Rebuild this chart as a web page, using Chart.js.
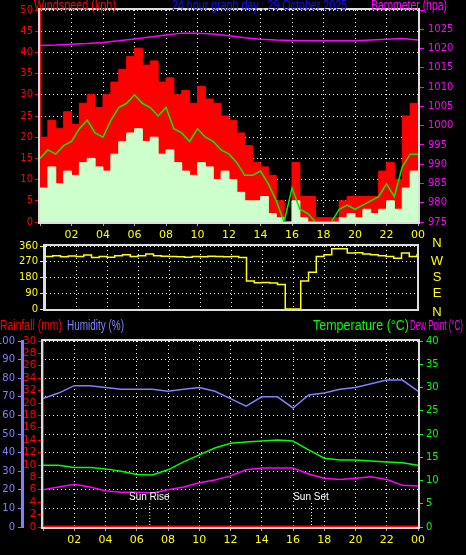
<!DOCTYPE html>
<html><head><meta charset="utf-8">
<script src="https://cdn.jsdelivr.net/npm/chart.js@4/dist/chart.umd.min.js"></script>
<style>
html,body{margin:0;padding:0;background:#000;width:466px;height:555px;overflow:hidden}
.c{position:absolute;left:0;width:466px}
</style></head><body>
<div class="c" style="top:0;height:242px"><canvas id="c1"></canvas></div>
<div class="c" style="top:238px;height:80px"><canvas id="c2"></canvas></div>
<div class="c" style="top:318px;height:237px"><canvas id="c3"></canvas></div>
<script>
// ---- data ----
const halfHours = [0,0.5,1,1.5,2,2.5,3,3.5,4,4.5,5,5.5,6,6.5,7,7.5,8,8.5,9,9.5,10,10.5,11,11.5,12,12.5,13,13.5,14,14.5,15,15.5,16,16.5,17,17.5,18,18.5,19,19.5,20,20.5,21,21.5,22,22.5,23,23.5,24];
const hours = [0,1,2,3,4,5,6,7,8,9,10,11,12,13,14,15,16,17,18,19,20,21,22,23,24];
const windGust = [20,24,22,26,23,28,30,27,30,33,36,39,41,37,38,33,34,30,31,28,32,29,28,25,24,21,18,14,13,11,5,0,14,6,6,1,1,1,5,6,6,6,6,12,14,10,25,28,30];
const windAvg  = [15,17,16,18,19,22,24,21,20,24,27,28,30,28,27,25,27,22,21,19,22,20,19,17,16,14,11,11,12,9,5,0,8,3,2,0,0,0,3,4,3,4,5,6,9,6,13,16,16];
const windLull = [8,13,9,12,11,14,15,13,12,16,19,21,22,19,20,16,17,14,12,11,14,13,10,12,10,7,5,5,6,2,1,0,5,1,0,0,0,0,1,2,1,3,2,3,5,3,8,12,10];
const barometer = [1020.8,1020.9,1021.1,1021.3,1021.6,1022.0,1022.5,1023.0,1023.5,1024.0,1024.0,1023.8,1023.3,1022.8,1022.4,1022.2,1022.1,1022.0,1022.0,1022.0,1022.0,1022.2,1022.4,1022.6,1022.2];
const windDir = [300,305,298,303,300,308,295,300,296,305,310,300,305,315,305,302,300,298,296,300,298,302,300,298,300,295,160,150,152,148,140,0,0,160,210,300,310,345,345,320,322,315,310,305,300,290,320,300,315];
const humidity = [69,72,76,76,75,74,74,74,73,74,75,73,69,65,70,70,64,71,72,74,75,77,79,79,73];
const temperature = [13.3,13.3,12.8,12.8,12.5,12.0,11.3,11.2,12.3,14.0,15.5,17.0,18.0,18.3,18.5,18.7,18.5,16.6,14.8,14.4,14.4,14.2,14.0,13.8,13.3];
const dewPoint = [8.0,8.6,9.2,8.6,7.8,7.5,7.5,7.3,8.0,8.6,9.5,10.1,11.0,12.3,12.7,12.7,12.7,11.4,10.5,10.2,10.5,10.8,10.2,9.0,8.8];
const rainfall = [0,0,0,0,0,0,0,0,0,0,0,0,0,0,0,0,0,0,0,0,0,0,0,0,0];
const rainTickLabels = {0:'0',2:'2',4:'4',6:'6',8:'8',10:'10',12:'12',14:'14',16:'16',18:'18',20:'20',22:'32',24:'34',26:'26',28:'28',30:'30'};
const dirLetters = ['N','E','S','W','N'];
const sunRise = 6.8, sunSet = 17.15;

const F = 'DejaVu Sans';
const HF = 'Liberation Sans';
Chart.defaults.font.family = F;
Chart.defaults.font.size = 10;
Chart.defaults.animation = false;
const pts = (xs, ys) => xs.map((x,i)=>({x, y:ys[i]}));
const fixW = w => s => { s.width = w; };
const fixH = h => s => { s.height = h; };
const hourLabel = v => v===0 ? '' : String(v%24).padStart(2,'0');
const DASH = [1,3];
const xAxis = (h) => ({type:'linear', min:0, max:24, afterFit: fixH(h),
  ticks:{stepSize:2, color:'#ffff00', callback:hourLabel, padding:3, maxRotation:0, autoSkip:false, font:{size:11}},
  grid:{color:'#fff', tickLength:4, tickColor:'#aaa', tickBorderDash:[]},
  border:{dash:DASH, color:'#ddd'}});

const frame = {id:'frame', afterDraw(c){const a=c.chartArea, x=c.ctx; x.save(); x.strokeStyle='#ddd'; x.lineWidth=2; x.strokeRect(a.left-1,a.top-1,a.right-a.left+2,a.bottom-a.top+2); x.restore();}};
function texts(name, list){return {id:name, afterDraw(c){const x=c.ctx; x.save(); x.font='14px "'+HF+'"'; x.textBaseline='middle'; x.textAlign='left'; list.forEach(t=>{x.fillStyle=t.c; x.fillText(t.s,t.x,t.y,t.w);}); x.restore();}};}

// ---- chart 1: wind + barometer ----
new Chart(document.getElementById('c1'), {
  type:'line',
  data:{datasets:[
    {data:pts(halfHours,windAvg), borderColor:'#00ee00', borderWidth:1.5, pointRadius:0, fill:false, yAxisID:'y', order:1},
    {data:pts(halfHours,windLull), borderColor:'#ccffcc', backgroundColor:'#ccffcc', borderWidth:1, pointRadius:0, fill:'origin', stepped:true, yAxisID:'y', order:2},
    {data:pts(halfHours,windGust), borderColor:'#ff0000', backgroundColor:'#ff0000', borderWidth:1, pointRadius:0, fill:'origin', stepped:true, yAxisID:'y', order:3},
    {data:pts(hours,barometer), borderColor:'#ff00ff', borderWidth:1.5, pointRadius:0, fill:false, yAxisID:'y2', order:0}
  ]},
  options:{responsive:true, maintainAspectRatio:false, layout:{padding:{top:10,left:0,right:0,bottom:0}},
    plugins:{legend:{display:false}, tooltip:{enabled:false}},
    scales:{
      x:xAxis(20),
      y:{position:'left', min:0, max:50, afterFit:fixW(40), ticks:{stepSize:5, color:'#ff0000', padding:2, autoSkip:false},
         grid:{color:'#fff', tickColor:'#ff0000', tickLength:5}, border:{dash:DASH, color:'#ff0000'}},
      y2:{position:'right', min:975, max:1030, afterFit:fixW(48), ticks:{stepSize:5, color:'#ff00ff', padding:4, autoSkip:false, callback:v=>v===1030?'':v},
         grid:{drawOnChartArea:false, tickColor:'#ff00ff', tickLength:6}, border:{color:'#ff00ff'}}
    }},
  plugins:[frame, texts('t1',[
    {s:'Windspeed (kph)', c:'#ff0000', x:34, y:6, w:82},
    {s:'24 hour graph day : 29 October 2025', c:'#1010ff', x:172, y:6, w:175},
    {s:'Barometer (hpa)', c:'#ff00ff', x:371, y:6, w:76}])]
});

// ---- chart 2: direction ----
new Chart(document.getElementById('c2'), {
  type:'line',
  data:{datasets:[{data:pts(halfHours,windDir), borderColor:'#ffff00', borderWidth:1.5, pointRadius:0, stepped:true, fill:false}]},
  options:{responsive:true, maintainAspectRatio:false, layout:{padding:{top:7,left:0,right:0,bottom:9}},
    plugins:{legend:{display:false}, tooltip:{enabled:false}},
    scales:{
      x:{type:'linear', min:0, max:24, afterFit:fixH(0), ticks:{display:false, stepSize:2}, grid:{color:'#fff', drawTicks:false}, border:{display:false, dash:DASH}},
      y:{position:'left', min:0, max:360, afterFit:fixW(45), ticks:{stepSize:90, color:'#ffff00', padding:2, autoSkip:false},
         grid:{color:'#fff', tickColor:'#ffff00', tickLength:5}, border:{color:'#ffff00', dash:DASH}},
      y2:{position:'right', min:0, max:360, afterFit:fixW(49), ticks:{display:false}, grid:{display:false}, border:{display:false}}
    }},
  plugins:[frame, {id:'dirL', afterDraw(c){const x=c.ctx, s=c.scales.y; x.save(); x.font='13px "'+HF+'"'; x.fillStyle='#ffff00'; x.textAlign='center'; x.textBaseline='middle'; dirLetters.forEach((l,i)=>x.fillText(l,437,s.getPixelForValue(i*90)+(i===0?3:i===4?-3:0))); x.restore();}}]
});

// ---- chart 3: rain / humidity / temp / dew ----
new Chart(document.getElementById('c3'), {
  type:'line',
  data:{datasets:[
    {data:pts(hours,humidity), borderColor:'#8080ff', borderWidth:1.5, pointRadius:0, yAxisID:'yh'},
    {data:pts(hours,temperature), borderColor:'#00ff00', borderWidth:1.5, pointRadius:0, yAxisID:'yt'},
    {data:pts(hours,dewPoint), borderColor:'#ff00ff', borderWidth:1.5, pointRadius:0, yAxisID:'yt'},
    {data:pts(hours,rainfall), borderColor:'#ff0000', borderWidth:3, pointRadius:0, yAxisID:'yr'}
  ]},
  options:{responsive:true, maintainAspectRatio:false, layout:{padding:{top:23,left:0,right:0,bottom:0}},
    plugins:{legend:{display:false}, tooltip:{enabled:false}},
    scales:{
      x:xAxis(28),
      yr:{position:'left', min:0, max:30, afterFit:fixW(21), ticks:{stepSize:2, color:'#ff0000', padding:2, autoSkip:false, callback:v=>rainTickLabels[v]},
         grid:{drawOnChartArea:false, tickColor:'#ff0000', tickLength:5}, border:{color:'#ff0000', dash:[1,1]}},
      yh:{position:'left', min:0, max:100, afterFit:fixW(22), ticks:{stepSize:10, color:'#8080ff', padding:3, autoSkip:false},
         grid:{color:'#fff', tickColor:'#8080ff', tickLength:4}, border:{color:'#8080ff', width:3, dash:DASH}},
      yt:{position:'right', min:0, max:40, afterFit:fixW(48), ticks:{stepSize:5, color:'#00ff00', padding:3, autoSkip:false},
         grid:{drawOnChartArea:false, tickColor:'#00ff00', tickLength:5}, border:{color:'#00ff00'}}
    }},
  plugins:[frame, texts('t3',[
    {s:'Rainfall (mm)', c:'#ff0000', x:0, y:8, w:62},
    {s:'Humidity (%)', c:'#8080ff', x:67, y:8, w:57},
    {s:'Temperature (°C)', c:'#00ff00', x:313, y:8, w:96},
    {s:'Dew Point (°C)', c:'#ff00ff', x:410, y:8, w:53}]),
    {id:'sun', afterDraw(c){const x=c.ctx, sx=c.scales.x, a=c.chartArea; x.save(); x.font='10px "'+HF+'"'; x.fillStyle='#fff'; x.textAlign='center'; x.textBaseline='middle';
      [[sunRise,'Sun Rise'],[sunSet,'Sun Set']].forEach(([t,l])=>{const px=sx.getPixelForValue(t); x.fillText(l,px,a.bottom-30); x.strokeStyle='#fff'; x.setLineDash([1,2]); x.beginPath(); x.moveTo(px+0.5,a.bottom-24); x.lineTo(px+0.5,a.bottom); x.stroke();}); x.restore();}}]
});
</script></body></html>
